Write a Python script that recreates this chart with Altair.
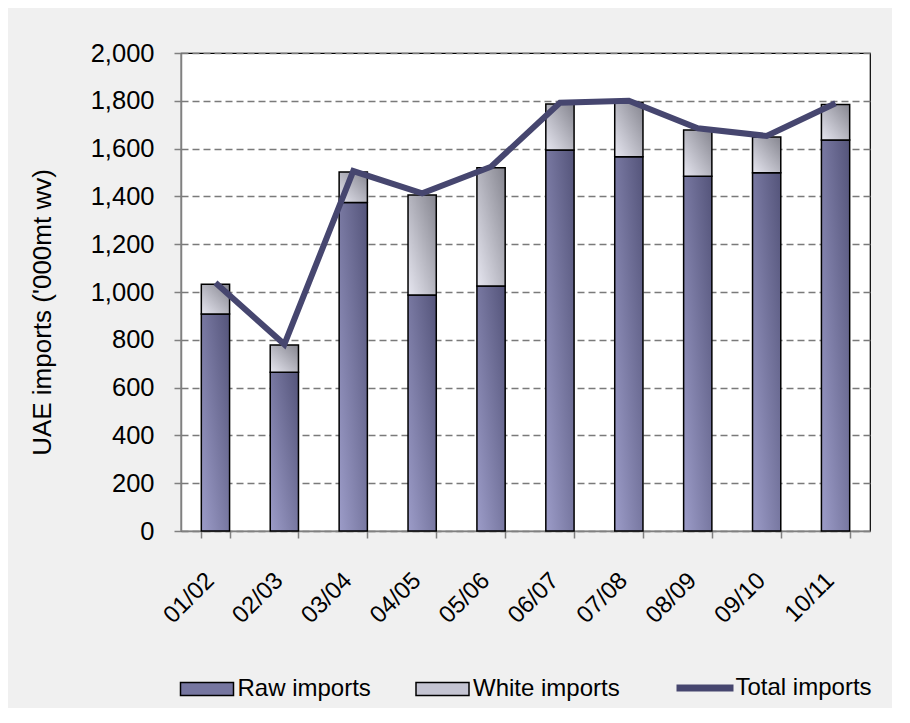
import altair as alt
import pandas as pd

# ---- data ----
seasons = ["01/02", "02/03", "03/04", "04/05", "05/06",
           "06/07", "07/08", "08/09", "09/10", "10/11"]
raw_imports = [908, 664, 1374, 987, 1025, 1594, 1566, 1484, 1499, 1636]
bar_totals = [1032, 778, 1502, 1406, 1520, 1787, 1794, 1678, 1649, 1785]
total_imports = [1039, 781, 1506, 1413, 1524, 1792, 1800, 1685, 1653, 1790]
series_names = ["Raw imports", "White imports", "Total imports"]
y_ticks = [0, 200, 400, 600, 800, 1000, 1200, 1400, 1600, 1800, 2000]

FONT = "Liberation Sans"

bars = pd.DataFrame({"season": seasons, "raw": raw_imports, "top": bar_totals})
line_df = pd.DataFrame({"season": seasons, "total": total_imports})
long_rows = []
for s, r, t in zip(seasons, raw_imports, bar_totals):
    long_rows.append({"season": s, "series": "Raw imports", "y0": 0, "y1": r})
    long_rows.append({"season": s, "series": "White imports", "y0": r, "y1": t})
long_df = pd.DataFrame(long_rows)

raw_grad = alt.Gradient(
    gradient="linear", x1=0, y1=1, x2=1, y2=0,
    stops=[alt.GradientStop(color="#9c9cc8", offset=0),
           alt.GradientStop(color="#54547a", offset=1)])
white_grad = alt.Gradient(
    gradient="linear", x1=0, y1=1, x2=1, y2=0,
    stops=[alt.GradientStop(color="#e6e6f0", offset=0),
           alt.GradientStop(color="#85858f", offset=1)])

x_enc = alt.X("season:N", sort=seasons, title=None,
              scale=alt.Scale(paddingInner=0.59, paddingOuter=0.295),
              axis=alt.Axis(labelAngle=-45, labelFontSize=24, labelFont=FONT,
                            labelColor="black", labelPadding=30, labelOffset=-14,
                            tickBand="extent", tickSize=7, tickColor="#808080",
                            tickWidth=1.5, domainColor="#808080", domainWidth=1.5,
                            grid=False))
y_scale = alt.Scale(domain=[0, 2000], nice=False)

y_axis = alt.Axis(values=y_ticks, format=",.0f", labelFontSize=25.5, labelFont=FONT,
                  labelColor="black", labelPadding=20, tickSize=7,
                  tickColor="#808080", tickWidth=1.5, domainColor="#808080",
                  domainWidth=1.5, grid=True, gridColor="#7a7a7a",
                  gridDash=[7, 4], gridWidth=1.4,
                  title="UAE imports ('000mt wv)", titleFont=FONT,
                  titleFontSize=26, titleFontWeight="normal", titleColor="black",
                  titleX=-139, titleY=259, titleAngle=-90,
                  titleAlign="center", titleBaseline="middle")

legend = alt.Legend(
    title=None, orient="none", direction="horizontal", legendX=14, legendY=623,
    labelFont=FONT, labelFontSize=24, labelColor="black", labelOffset=18.5,
    columnPadding=41.5, symbolSize=400,
    symbolType={"expr": "datum.value === 'Total imports' ? 'M-2.85,0H2.85' : 'M-2.65,-0.65H2.65V0.65H-2.65Z'"},
    symbolStrokeColor={"expr": "datum.value === 'Total imports' ? '#46466f' : 'black'"},
    symbolStrokeWidth={"expr": "datum.value === 'Total imports' ? 7 : 1.5"},
)

solid = alt.Chart(long_df).mark_bar().encode(
    x=x_enc,
    y=alt.Y("y0:Q", scale=y_scale, axis=y_axis),
    y2="y1:Q",
    color=alt.Color("series:N",
                    scale=alt.Scale(domain=series_names,
                                    range=["#7676a0", "#c4c4d2", "#46466f"]),
                    legend=legend),
)

raw_bars = alt.Chart(bars).mark_bar(fill=raw_grad, stroke="black", strokeWidth=1.5).encode(
    x=alt.X("season:N", sort=seasons),
    y=alt.Y("raw:Q", scale=y_scale),
)
white_bars = alt.Chart(bars).mark_bar(fill=white_grad, stroke="black", strokeWidth=1.5).encode(
    x=alt.X("season:N", sort=seasons),
    y=alt.Y("raw:Q", scale=y_scale),
    y2="top:Q",
)
line = alt.Chart(line_df).mark_line(color="#46466f", strokeWidth=6,
                                    strokeJoin="miter").encode(
    x=alt.X("season:N", sort=seasons),
    y=alt.Y("total:Q", scale=y_scale),
)

chart = alt.layer(solid, raw_bars, white_bars, line).properties(
    width=689, height=478,
    padding={"left": 20, "top": 33, "right": 20, "bottom": 6},
    background="#f0f0f0",
).configure_view(
    fill="white", stroke="black", strokeWidth=1.2,
)

chart.save("out.html", embed_options={"renderer": "svg", "actions": False})
